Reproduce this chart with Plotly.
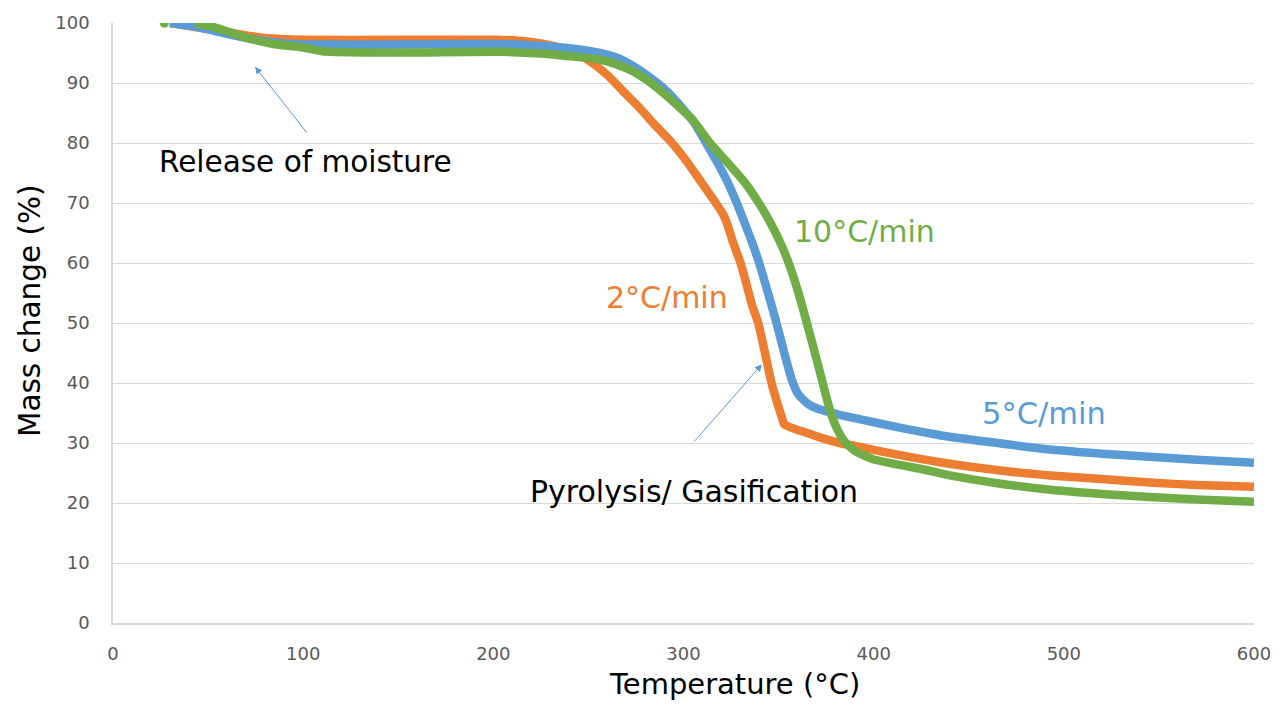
import plotly.graph_objects as go

# 2°C/min
t_2 = [30, 50, 65, 80, 100, 150, 200, 212, 225, 240, 250, 260, 268, 277, 285, 294, 302, 309.5, 317, 321, 323,
       326, 330, 333.5, 336, 339.3, 343.2, 346.3, 349, 351.6, 353, 358, 364.7, 372, 382.2, 395, 408.5, 434.8,
       470, 493, 520, 545, 570, 600]
m_2 = [100, 99, 98.2, 97.5, 97.2, 97.2, 97.2, 97.1, 96.6, 95.5, 93.8, 91.3, 88.7, 85.8, 83, 80, 76.8, 73.4, 70, 68, 66.5,
       63.5, 60, 56, 53, 50, 44.5, 40, 37, 34.4, 33.1, 32.4, 31.7, 30.9, 30, 29.2, 28.3, 26.8,
       25.3, 24.6, 24.0, 23.4, 23.0, 22.7]

# 5°C/min
t_5 = [30, 45, 60, 75, 90, 105, 150, 200, 220, 240, 256, 265, 273.6, 282, 291, 300, 306, 311, 317, 323, 328,
       332, 336, 340, 344, 348.4, 353, 357, 360, 363, 366, 370, 376, 382.2, 395, 410, 434.8, 460, 493,
       520, 545, 570, 600]
m_5 = [100, 99.3, 98.2, 97.2, 96.6, 96.4, 96.4, 96.5, 96.3, 95.8, 95, 94.2, 92.8, 91, 88.7, 85.6, 83.2, 80.5, 77.2, 73.6, 70,
       66.8, 63.5, 59.8, 55.5, 50.6, 45, 40.5, 38.3, 37.2, 36.4, 35.8, 35.2, 34.7, 33.8, 32.8, 31.3, 30.2, 28.9,
       28.2, 27.7, 27.2, 26.7]

# 10°C/min
t_10 = [27, 28, None, 43, 52, 62, 72, 84.3, 98.3, 110, 133, 160, 203.5, 225, 238.5, 256, 265, 273.6, 282, 291, 298, 305,
        313.9, 323, 332.3, 339.6, 344, 348, 352, 356, 360, 364, 368, 372, 375, 378, 381, 384.8, 390, 399.7,
        427.6, 440, 465, 493, 520, 545, 570, 600]
m_10 = [100, 100, None, 100, 99.4, 98.4, 97.4, 96.5, 96.0, 95.3, 95.1, 95.1, 95.2, 94.9, 94.5, 93.9, 93.1, 91.9, 90.2, 87.9, 85.9, 83.8,
        80, 76.8, 73.4, 70, 67.7, 65.3, 62.6, 59.4, 55.5, 51, 46.3, 41.5, 37.8, 34.5, 32.2, 30.2, 28.7, 27.3,
        25.5, 24.6, 23.3, 22.2, 21.5, 21, 20.6, 20.2]

x_ticks = [0, 100, 200, 300, 400, 500, 600]
y_ticks = [0, 10, 20, 30, 40, 50, 60, 70, 80, 90, 100]

ORANGE = "#ED7D31"
BLUE = "#5B9BD5"
GREEN = "#70AD47"
FONT = "DejaVu Sans"
LW = 8.5

fig = go.Figure()
fig.add_trace(go.Scatter(x=t_2, y=m_2, mode="lines", line=dict(color=ORANGE, width=LW, shape="spline", smoothing=0.5),
                         name="2°C/min"))
fig.add_trace(go.Scatter(x=t_5, y=m_5, mode="lines", line=dict(color=BLUE, width=LW, shape="spline", smoothing=0.5),
                         name="5°C/min"))
fig.add_trace(go.Scatter(x=t_10, y=m_10, mode="lines", line=dict(color=GREEN, width=LW, shape="spline", smoothing=0.5),
                         name="10°C/min", connectgaps=False))
# isolated first reading of the 10°C/min series drawn as a dot
fig.add_trace(go.Scatter(x=t_10[:1], y=m_10[:1], mode="markers",
                         marker=dict(color=GREEN, size=LW + 1), showlegend=False))

anns = [
    dict(x=101, y=76.8, text="Release of moisture", showarrow=False, font=dict(size=29.5, color="black", family=FONT)),
    dict(x=74.7, y=92.7, ax=102.5, ay=81.5, xref="x", yref="y", axref="x", ayref="y", text="",
         showarrow=True, arrowhead=2, arrowsize=1.4, arrowwidth=1, arrowcolor=BLUE),
    dict(x=305.5, y=21.9, text="Pyrolysis/ Gasification", showarrow=False, font=dict(size=30, color="black", family=FONT)),
    dict(x=341.2, y=43.1, ax=305, ay=30, xref="x", yref="y", axref="x", ayref="y", text="",
         showarrow=True, arrowhead=2, arrowsize=1.4, arrowwidth=1, arrowcolor=BLUE),
    dict(x=395.4, y=65.3, text="10°C/min", showarrow=False, font=dict(size=30, color=GREEN, family=FONT)),
    dict(x=291.3, y=54.3, text="2°C/min", showarrow=False, font=dict(size=30, color=ORANGE, family=FONT)),
    dict(x=489.5, y=34.9, text="5°C/min", showarrow=False, font=dict(size=30.5, color=BLUE, family=FONT)),
    # axis titles
    dict(xref="paper", yref="paper", x=-0.0727, y=0.52, text="Mass change (%)", textangle=-90, showarrow=False,
         xanchor="center", yanchor="middle", font=dict(size=29.5, color="black", family=FONT)),
    dict(xref="paper", yref="paper", x=0.5447, y=-0.1017, text="Temperature (°C)", showarrow=False,
         xanchor="center", yanchor="middle", font=dict(size=29, color="black", family=FONT)),
]

fig.update_layout(
    width=1285, height=704,
    margin=dict(l=113, r=31, t=23, b=81),
    paper_bgcolor="white", plot_bgcolor="white",
    showlegend=False,
    annotations=anns,
    font=dict(family=FONT),
    xaxis=dict(range=[0, 600], tickvals=x_ticks, showgrid=False, zeroline=False,
               showline=True, linecolor="#D9D9D9", linewidth=1.5,
               tickfont=dict(size=18, color="#595959", family=FONT), ticks="", ticklabelstandoff=14),
    yaxis=dict(range=[0, 100], tickvals=y_ticks, showgrid=True, gridcolor="#D9D9D9", gridwidth=1.2, zeroline=False,
               showline=True, linecolor="#D9D9D9", linewidth=1.5,
               tickfont=dict(size=18, color="#595959", family=FONT), ticks="", ticklabelstandoff=18),
)

fig.write_html("out.html")
